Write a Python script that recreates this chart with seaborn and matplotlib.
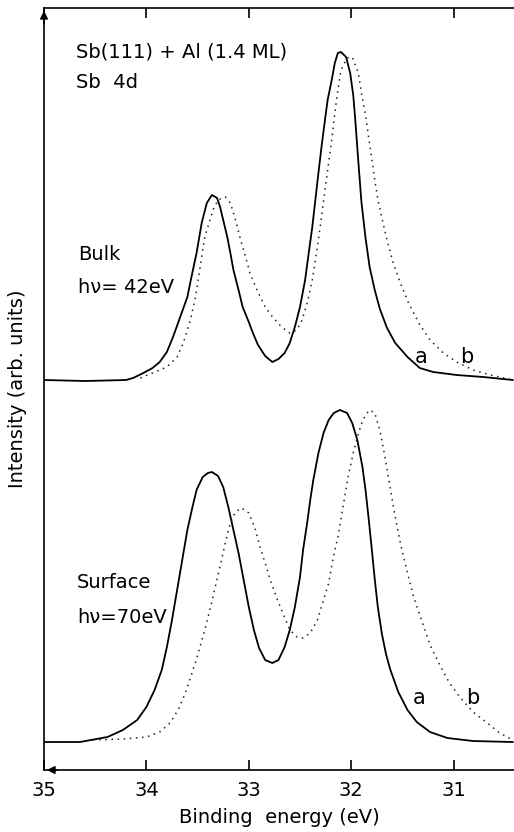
import matplotlib
matplotlib.use("Agg")
import matplotlib.pyplot as plt
import seaborn as sns

sns.set_theme(style="white")
plt.rcParams['font.family'] = ['DejaVu Sans']

# ---- data (binding energy in eV, intensity in arb. units) ----
bulk_a_E = [35.00, 34.60, 34.20, 34.13, 34.03, 33.94, 33.87, 33.80, 33.74, 33.67,
            33.60, 33.56, 33.51, 33.46, 33.41, 33.36, 33.31, 33.28, 33.25, 33.21,
            33.18, 33.15, 33.10, 33.06, 33.00, 32.96, 32.91, 32.84, 32.77, 32.71,
            32.65, 32.60, 32.55, 32.50, 32.45, 32.42, 32.38, 32.35, 32.32, 32.29,
            32.26, 32.23, 32.19, 32.16, 32.13, 32.10, 32.05, 32.01, 31.98, 31.96,
            31.93, 31.90, 31.86, 31.82, 31.77, 31.72, 31.65, 31.57, 31.45, 31.33,
            31.20, 30.97, 30.71, 30.42]
bulk_a_I = [390, 389, 390, 392, 397, 402, 408, 418, 433, 453,
            473, 493, 517, 547, 567, 575, 572, 563, 550, 533,
            517, 500, 480, 463, 448, 437, 425, 414, 408, 411,
            417, 427, 443, 463, 490, 513, 543, 570, 597, 623,
            647, 670, 690, 707, 717, 718, 713, 697, 675, 650,
            608, 568, 532, 503, 480, 461, 442, 427, 413, 402,
            398, 395, 393, 390]

bulk_b_E = [34.06, 33.94, 33.80, 33.70, 33.64, 33.57, 33.52, 33.49, 33.46, 33.43,
            33.40, 33.35, 33.30, 33.23, 33.18, 33.13, 33.08, 33.03, 32.99, 32.92,
            32.84, 32.76, 32.68, 32.60, 32.53, 32.48, 32.43, 32.38, 32.35, 32.32,
            32.29, 32.26, 32.23, 32.19, 32.16, 32.13, 32.10, 32.04, 31.99, 31.93,
            31.90, 31.86, 31.83, 31.80, 31.77, 31.74, 31.70, 31.65, 31.59, 31.52,
            31.44, 31.34, 31.23, 31.10, 30.97, 30.81, 30.64, 30.42]
bulk_b_I = [392, 397, 403, 413, 427, 450, 473, 493, 513, 533,
            543, 560, 570, 573, 567, 550, 530, 513, 497, 480,
            463, 452, 443, 437, 440, 450, 467, 490, 510, 530,
            553, 577, 600, 630, 657, 680, 700, 712, 713, 697,
            677, 655, 633, 612, 590, 571, 552, 530, 507, 487,
            467, 447, 430, 417, 408, 400, 395, 390]

surf_a_E = [35.00, 34.65, 34.38, 34.23, 34.09, 34.00, 33.92, 33.85, 33.80, 33.75,
            33.70, 33.65, 33.60, 33.55, 33.51, 33.45, 33.40, 33.36, 33.30, 33.25,
            33.20, 33.15, 33.10, 33.05, 33.00, 32.95, 32.90, 32.84, 32.77, 32.71,
            32.65, 32.60, 32.55, 32.50, 32.47, 32.43, 32.40, 32.37, 32.32, 32.27,
            32.22, 32.17, 32.11, 32.04, 31.99, 31.94, 31.89, 31.86, 31.83, 31.80,
            31.77, 31.74, 31.70, 31.66, 31.62, 31.54, 31.45, 31.36, 31.23, 31.06,
            30.81, 30.42]
surf_a_I = [28, 28, 33, 40, 50, 63, 80, 100, 123, 150,
            180, 210, 240, 263, 280, 293, 297, 298, 294, 283,
            263, 240, 217, 190, 163, 140, 122, 110, 107, 110,
            123, 140, 163, 193, 220, 247, 270, 290, 317, 337,
            350, 357, 360, 357, 347, 330, 303, 280, 252, 222,
            191, 163, 136, 116, 101, 78, 60, 48, 38, 32,
            29, 28]

surf_b_E = [34.52, 34.23, 34.00, 33.87, 33.77, 33.69, 33.62, 33.57, 33.52, 33.48,
            33.43, 33.38, 33.33, 33.28, 33.23, 33.18, 33.13, 33.07, 33.00, 32.94,
            32.89, 32.84, 32.79, 32.72, 32.66, 32.60, 32.53, 32.47, 32.40, 32.33,
            32.27, 32.22, 32.18, 32.13, 32.08, 32.03, 31.98, 31.93, 31.90, 31.86,
            31.82, 31.77, 31.72, 31.67, 31.62, 31.57, 31.52, 31.45, 31.39, 31.31,
            31.23, 31.13, 31.04, 30.94, 30.81, 30.67, 30.55, 30.42]
surf_b_I = [30, 31, 33, 38, 47, 60, 77, 92, 108, 122,
            140, 160, 182, 204, 227, 247, 258, 262, 257, 242,
            223, 207, 190, 170, 155, 140, 133, 132, 137, 150,
            170, 187, 210, 233, 263, 293, 317, 336, 346, 355,
            360, 357, 340, 313, 283, 253, 227, 197, 173, 149,
            125, 104, 87, 73, 58, 47, 37, 30]

x_ticks = [35, 34, 33, 32, 31]

# ---- figure ----
fig = plt.figure(figsize=(5.14, 8.32), dpi=100)
ax = fig.add_axes([0.0856, 0.0745, 0.9144, 0.9159])

solid_kw = dict(color="black", linewidth=1.3, sort=False, estimator=None)
dot_kw = dict(color="#222222", linewidth=1.1, sort=False, estimator=None,
              linestyle=(0, (1, 3)))

sns.lineplot(x=bulk_a_E, y=bulk_a_I, ax=ax, **solid_kw)
sns.lineplot(x=bulk_b_E, y=bulk_b_I, ax=ax, **dot_kw)
sns.lineplot(x=surf_a_E, y=surf_a_I, ax=ax, **solid_kw)
sns.lineplot(x=surf_b_E, y=surf_b_I, ax=ax, **dot_kw)

ax.set_xlim(35, 30.41)
ax.set_ylim(0, 762)
ax.set_xticks(x_ticks)
ax.set_xticklabels([str(t) for t in x_ticks], fontsize=14)
ax.set_yticks([])

for side in ["left", "bottom", "top"]:
    ax.spines[side].set_visible(True)
    ax.spines[side].set_color("black")
    ax.spines[side].set_linewidth(1.2)
ax.spines["right"].set_visible(False)

ax.tick_params(axis="x", which="both", direction="in", length=7, width=1.2,
               top=True, bottom=True, labeltop=False, pad=8, colors="black")

ax.set_xlabel("Binding  energy (eV)", fontsize=14, labelpad=6, color="black")
ax.set_ylabel("Intensity (arb. units)", fontsize=14, labelpad=12, color="black")

# axis arrows
ax.annotate("", xy=(0, 1.0), xytext=(0, 0.975), xycoords="axes fraction",
            arrowprops=dict(arrowstyle="-|>", color="black", lw=1.0,
                            mutation_scale=12))
ax.annotate("", xy=(0.0, 0.0), xytext=(0.035, 0.0), xycoords="axes fraction",
            arrowprops=dict(arrowstyle="-|>", color="black", lw=1.0,
                            mutation_scale=12))

txt_kw = dict(fontsize=14, color="black", va="center", ha="left")
ax.text(34.69, 718, "Sb(111) + Al (1.4 ML)", **txt_kw)
ax.text(34.69, 687, "Sb  4d", **txt_kw)
ax.text(34.67, 515, "Bulk", **txt_kw)
ax.text(34.67, 482, "h\u03bd= 42eV", **txt_kw)
ax.text(34.68, 188, "Surface", **txt_kw)
ax.text(34.68, 153, "h\u03bd=70eV", **txt_kw)

lab_kw = dict(fontsize=15, color="black", va="center", ha="center")
ax.text(31.32, 413, "a", **lab_kw)
ax.text(30.87, 413, "b", **lab_kw)
ax.text(31.34, 72, "a", **lab_kw)
ax.text(30.81, 72, "b", **lab_kw)

fig.savefig("out.png", dpi=100)
